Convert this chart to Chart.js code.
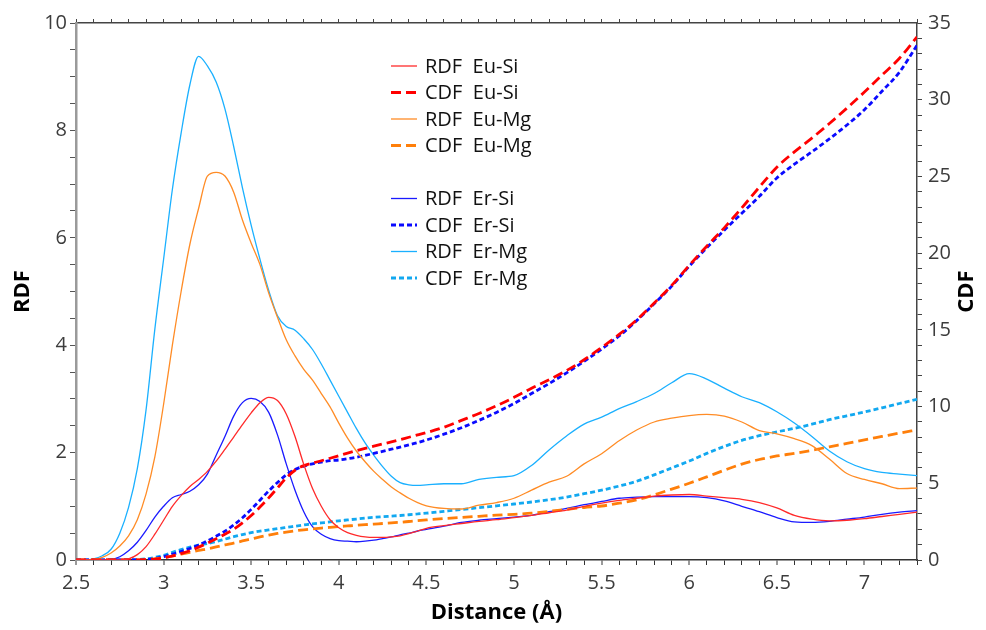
<!DOCTYPE html>
<html>
<head>
<meta charset="utf-8">
<script src="https://cdn.jsdelivr.net/npm/chart.js@4.4.1/dist/chart.umd.min.js"></script>
<style>
  html, body { margin: 0; padding: 0; background: #fff; }
  #wrap { width: 986px; height: 630px; }
</style>
</head>
<body>
<div id="wrap"><canvas id="rdf" width="986" height="630"></canvas></div>
<script>
// distance grid (Å): 0.05 steps up to 4.5, then 0.1 steps
const distance = [2.5,2.55,2.6,2.65,2.7,2.75,2.8,2.85,2.9,2.95,3.0,3.05,3.1,3.15,3.2,3.25,3.3,3.35,3.4,3.45,
  3.5,3.55,3.6,3.65,3.7,3.75,3.8,3.85,3.9,3.95,4.0,4.05,4.1,4.15,4.2,4.25,4.3,4.35,4.4,4.45,4.5,
  4.6,4.7,4.8,4.9,5.0,5.1,5.2,5.3,5.4,5.5,5.6,5.7,5.8,5.9,6.0,6.1,6.2,6.3,6.4,6.5,6.6,6.7,6.8,6.9,7.0,7.1,7.2,7.3];

// RDF (left axis)
const rdfEuSi = [0,0,0,0,0,0,0.02,0.1,0.25,0.48, 0.74,1.0,1.2,1.37,1.5,1.65,1.84,2.06,2.29,2.52,
  2.74,2.93,3.03,2.97,2.72,2.3,1.78,1.33,1.0,0.75, 0.6,0.51,0.46,0.43,0.42,0.42,0.43,0.45,0.49,0.54, 0.59,
  0.64,0.68,0.72,0.75,0.79,0.83,0.88,0.93,1.0,1.06, 1.11,1.15,1.19,1.21,1.22,1.19,1.16,1.13,1.07,0.97,
  0.83,0.76,0.73,0.74,0.77,0.81,0.85,0.89];
const rdfEuMg = [0,0,0.01,0.05,0.13,0.26,0.45,0.75,1.23,1.92, 2.9,4.0,5.0,5.88,6.55,7.15,7.22,7.15,6.85,6.33,
  5.9,5.5,4.97,4.52,4.1,3.8,3.55,3.35,3.1,2.85, 2.55,2.27,2.03,1.83,1.65,1.5,1.36,1.25,1.15,1.07, 1.01,
  0.96,0.95,1.02,1.07,1.15,1.3,1.45,1.56,1.79,1.98, 2.22,2.42,2.57,2.64,2.69,2.71,2.68,2.57,2.41,2.35,
  2.26,2.13,1.88,1.61,1.5,1.42,1.33,1.34];
const rdfErSi = [0,0,0,0,0.01,0.06,0.17,0.33,0.55,0.8, 1.0,1.16,1.22,1.28,1.4,1.6,1.95,2.3,2.68,2.93,
  3.01,2.95,2.75,2.33,1.79,1.3,0.9,0.62,0.48,0.4, 0.36,0.35,0.34,0.35,0.37,0.4,0.43,0.47,0.5,0.54, 0.57,
  0.63,0.7,0.74,0.77,0.8,0.83,0.9,0.96,1.03,1.09, 1.15,1.17,1.18,1.18,1.18,1.16,1.1,1.0,0.9,0.79,
  0.71,0.7,0.72,0.76,0.8,0.85,0.89,0.92];
const rdfErMg = [0,0,0.02,0.08,0.2,0.5,0.98,1.7,2.8,4.3, 5.6,6.9,7.95,8.85,9.38,9.2,8.9,8.4,7.7,6.93,
  6.23,5.6,5.02,4.55,4.35,4.28,4.12,3.92,3.65,3.35, 3.05,2.75,2.45,2.18,1.95,1.74,1.56,1.44,1.4,1.39, 1.4,
  1.42,1.42,1.5,1.54,1.57,1.76,2.05,2.31,2.53,2.66, 2.82,2.95,3.1,3.3,3.47,3.37,3.2,3.04,2.93,2.76,
  2.55,2.3,2.03,1.83,1.7,1.63,1.6,1.57];

// CDF (right axis)
const cdfEuSi = [0,0,0,0,0,0,0,0.01,0.02,0.06, 0.14,0.26,0.42,0.6,0.84,1.1,1.38,1.68,2.0,2.42,
  2.9,3.45,4.05,4.7,5.35,5.85,6.15,6.32,6.47,6.63, 6.8,6.97,7.13,7.28,7.42,7.56,7.7,7.85,8.0,8.15, 8.3,
  8.65,9.1,9.55,10.05,10.6,11.2,11.75,12.35,13.05,13.85, 14.7,15.65,16.75,17.9,19.2,20.45,21.65,22.95,24.3,25.6,
  26.6,27.5,28.45,29.45,30.5,31.6,32.7,34.1];
const cdfEuMg = [0,0,0,0,0,0,0,0.01,0.03,0.08, 0.15,0.26,0.38,0.5,0.62,0.73,0.85,0.98,1.1,1.24,
  1.37,1.5,1.62,1.73,1.82,1.9,1.97,2.03,2.08,2.13, 2.18,2.22,2.26,2.3,2.34,2.38,2.42,2.46,2.51,2.56, 2.61,
  2.7,2.78,2.85,2.92,2.98,3.05,3.17,3.3,3.42,3.52, 3.7,3.92,4.25,4.62,5.0,5.42,5.85,6.25,6.55,6.78,
  6.95,7.15,7.38,7.6,7.83,8.05,8.27,8.48];
const cdfErSi = [0,0,0,0,0,0,0,0,0.03,0.1, 0.22,0.38,0.55,0.75,0.98,1.25,1.55,1.88,2.28,2.75,
  3.3,3.9,4.5,5.05,5.55,5.9,6.12,6.27,6.38,6.47, 6.52,6.6,6.7,6.82,6.95,7.08,7.22,7.36,7.5,7.65, 7.82,
  8.2,8.62,9.1,9.62,10.2,10.85,11.5,12.2,12.95,13.75, 14.6,15.6,16.7,17.85,19.15,20.35,21.5,22.6,23.7,24.9,
  25.8,26.6,27.45,28.35,29.35,30.55,31.8,33.55];
const cdfErMg = [0,0,0,0,0,0,0.01,0.03,0.08,0.17, 0.3,0.5,0.68,0.84,0.97,1.07,1.2,1.36,1.52,1.66,
  1.78,1.88,1.96,2.04,2.12,2.2,2.28,2.36,2.42,2.48, 2.55,2.61,2.67,2.73,2.78,2.82,2.86,2.9,2.95,3.0, 3.05,
  3.17,3.29,3.41,3.53,3.65,3.78,3.93,4.1,4.32,4.55, 4.82,5.13,5.55,6.0,6.45,6.95,7.4,7.8,8.1,8.35,
  8.58,8.85,9.15,9.4,9.65,9.92,10.2,10.47];

const FONT = "'Open Sans', 'DejaVu Sans', sans-serif";
const pts = ys => distance.map((x, i) => ({ x, y: ys[i] }));

function rdfSet(label, ys, color) {
  return { label, data: pts(ys), yAxisID: 'y', borderColor: color, borderWidth: 1.3,
    borderDash: [], pointRadius: 0, fill: false, cubicInterpolationMode: 'monotone' };
}
function cdfSet(label, ys, color, dash) {
  return { label, data: pts(ys), yAxisID: 'y1', borderColor: color, borderWidth: 2.8,
    borderDash: dash, pointRadius: 0, fill: false, cubicInterpolationMode: 'monotone' };
}

const LONG_DASH = [10, 5];
const SHORT_DASH = [5, 3];

const datasets = [
  rdfSet('RDF  Eu-Si', rdfEuSi, '#ff2a2a'),
  cdfSet('CDF  Eu-Si', cdfEuSi, '#ff0000', LONG_DASH),
  rdfSet('RDF  Eu-Mg', rdfEuMg, '#ff8c26'),
  cdfSet('CDF  Eu-Mg', cdfEuMg, '#ff7f0a', LONG_DASH),
  rdfSet('RDF  Er-Si', rdfErSi, '#1a1aff'),
  cdfSet('CDF  Er-Si', cdfErSi, '#0a0aff', SHORT_DASH),
  rdfSet('RDF  Er-Mg', rdfErMg, '#1ab0ff'),
  cdfSet('CDF  Er-Mg', cdfErMg, '#12a8f0', SHORT_DASH),
];
// legend rows, with an empty row between the Eu and Er groups
const legendRows = [0, 1, 2, 3, 5, 6, 7, 8];

const isHalf = v => Math.abs(v * 2 - Math.round(v * 2)) < 1e-6;
const fmt = v => String(Math.round(v * 10) / 10);

const boxLegend = {
  id: 'boxLegend',
  afterDraw(chart) {
    const { ctx, chartArea } = chart;
    const x0 = chartArea.left + 315, y0 = chartArea.top + 43, rowH = 26.5;
    ctx.save();
    chart.data.datasets.forEach((ds, i) => {
      const y = y0 + legendRows[i] * rowH;
      ctx.beginPath();
      ctx.setLineDash(ds.borderDash);
      ctx.lineWidth = ds.borderWidth;
      ctx.strokeStyle = ds.borderColor;
      ctx.moveTo(x0, y);
      ctx.lineTo(x0 + 26, y);
      ctx.stroke();
      ctx.setLineDash([]);
      ctx.fillStyle = '#111';
      ctx.font = '20px ' + FONT;
      ctx.textBaseline = 'middle';
      ctx.textAlign = 'left';
      ctx.fillText(ds.label, x0 + 34, y + 1);
    });
    // right axis title, reading bottom to top like the left one
    ctx.translate(967, (chartArea.top + chartArea.bottom) / 2);
    ctx.rotate(-Math.PI / 2);
    ctx.font = 'bold 22px ' + FONT;
    ctx.fillStyle = '#000';
    ctx.textAlign = 'center';
    ctx.textBaseline = 'middle';
    ctx.fillText('CDF', 0, 0);
    ctx.restore();
  }
};

const tickFont = { family: FONT, size: 20 };
const titleFont = { family: FONT, size: 22, weight: 'bold' };

new Chart(document.getElementById('rdf'), {
  type: 'line',
  data: { datasets },
  plugins: [boxLegend],
  options: {
    responsive: false,
    animation: false,
    devicePixelRatio: 1,
    layout: { padding: 0 },
    plugins: { legend: { display: false }, tooltip: { enabled: false } },
    scales: {
      x: {
        type: 'linear', position: 'bottom', min: 2.5, max: 7.3,
        ticks: { stepSize: 0.1, autoSkip: false, maxRotation: 0, padding: 6, color: '#3c3c3c', font: tickFont,
          callback: v => isHalf(v) ? fmt(v) : '' },
        grid: { drawOnChartArea: false, drawTicks: true, tickLength: 5,
          color: c => isHalf(c.tick.value) ? '#9a9a9a' : '#333', lineWidth: c => isHalf(c.tick.value) ? 2 : 1 },
        border: { color: '#333', width: 1.5 },
        title: { display: true, text: 'Distance (Å)', color: '#000', font: titleFont, padding: { top: 0, bottom: 4 } },
        afterFit: s => { s.height = 70; }
      },
      x2: {
        type: 'linear', position: 'top', min: 2.5, max: 7.3, display: true,
        ticks: { stepSize: 0.1, autoSkip: false, maxRotation: 0, callback: () => '' },
        grid: { drawOnChartArea: false, drawTicks: true, tickLength: 4, color: '#444' },
        border: { color: '#444', width: 1.5 },
        afterFit: s => { s.height = 23; }
      },
      y: {
        position: 'left', min: 0, max: 10,
        ticks: { stepSize: 0.5, autoSkip: false, padding: 3, color: '#3c3c3c', font: tickFont,
          callback: v => Math.abs(v / 2 - Math.round(v / 2)) < 1e-6 ? fmt(v) : '' },
        grid: { drawOnChartArea: false, drawTicks: true, tickLength: 6, color: '#555' },
        border: { color: '#9a9a9a', width: 2.5 },
        title: { display: true, text: 'RDF', color: '#000', font: titleFont, padding: { top: 10, bottom: 0 } },
        afterFit: s => { s.width = 76; }
      },
      y1: {
        position: 'right', min: 0, max: 35,
        ticks: { stepSize: 1, autoSkip: false, padding: 6, color: '#3c3c3c', font: tickFont,
          callback: v => v % 5 === 0 ? fmt(v) : '' },
        grid: { drawOnChartArea: false, drawTicks: true, tickLength: 5, color: '#444' },
        border: { color: '#444', width: 1.5 },
        afterFit: s => { s.width = 69; }
      }
    }
  }
});
</script>
</body>
</html>
